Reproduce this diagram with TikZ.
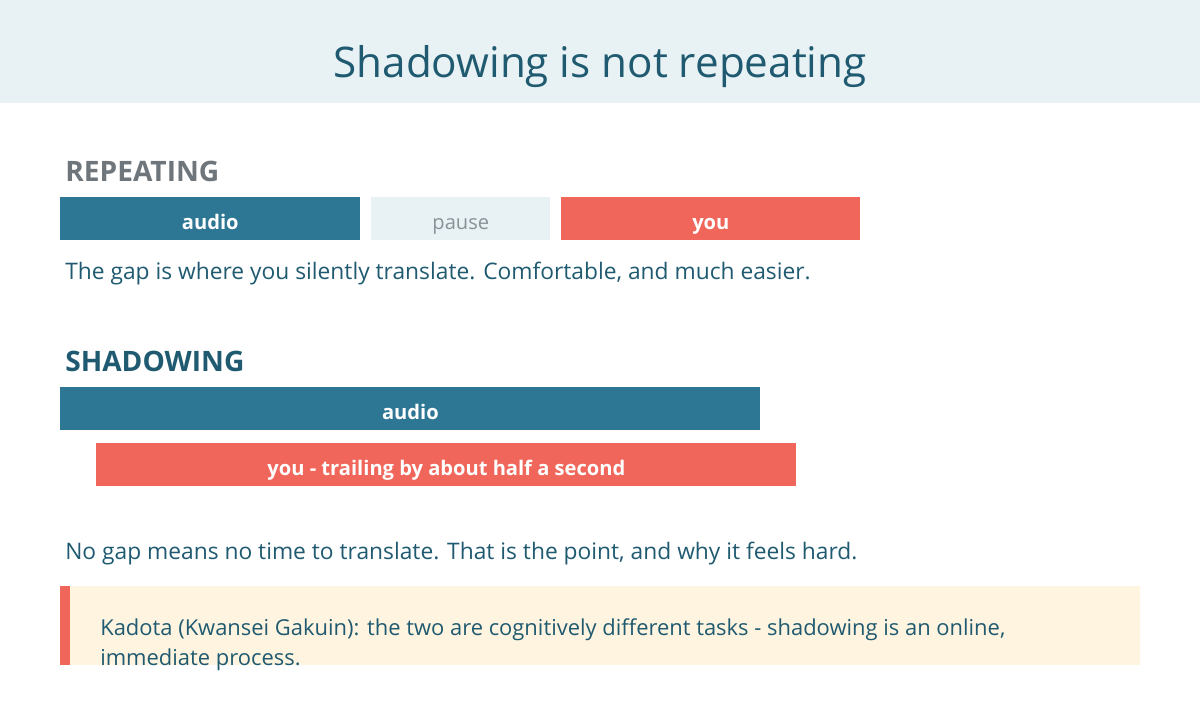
\documentclass[tikz,border=0pt]{standalone}
\usepackage{fontspec}
\setmainfont{Open Sans}
\usetikzlibrary{positioning}

\definecolor{titlebg}{HTML}{E8F2F4}
\definecolor{navy}{HTML}{1F5A70}
\definecolor{audiocol}{HTML}{2E7794}
\definecolor{youcol}{HTML}{F0665A}
\definecolor{headgray}{HTML}{6E767C}
\definecolor{pausegray}{HTML}{8A9299}
\definecolor{notebg}{HTML}{FFF4E0}

\begin{document}
\begin{tikzpicture}[x=0.025cm,y=-0.025cm,
  bar/.style={minimum height=1.075cm,inner sep=0pt,text height=15pt,text depth=0pt,anchor=north west,font=\bfseries\fontsize{14.3}{16}\selectfont,text=white},
  head/.style={anchor=base west,inner sep=0pt,font=\bfseries\fontsize{20}{24}\selectfont},
  body/.style={anchor=base west,inner sep=0pt,text=navy,font=\fontsize{16.2}{19}\selectfont}]

\useasboundingbox (0,0) rectangle (1200,700);
\fill[titlebg] (0,0) rectangle (1200,103);
\node[anchor=base,inner sep=0pt,text=navy,font=\fontsize{30}{34}\selectfont] (title) at (600,77) {Shadowing is not repeating};

% repeating
\node[head,text=headgray] (rephead) at (65,181) {REPEATING};
\node[bar,fill=audiocol,minimum width=7.5cm] (repaudio) at (60,197) {audio};
\node[bar,fill=titlebg,minimum width=4.475cm,text=pausegray,font=\fontsize{14.3}{16}\selectfont] (reppause) at (371,197) {pause};
\node[bar,fill=youcol,minimum width=7.475cm] (repyou) at (561,197) {you};
\node[body] (repnote) at (65,279) {The gap is where you silently translate. Comfortable, and much easier.};

% shadowing
\node[head,text=navy] (shadhead) at (65,371) {SHADOWING};
\node[bar,fill=audiocol,minimum width=17.5cm] (shadaudio) at (60,387) {audio};
\node[bar,fill=youcol,minimum width=17.5cm] (shadyou) at (96,443) {you - trailing by about half a second};
\node[body] (shadnote) at (65,559) {No gap means no time to translate. That is the point, and why it feels hard.};

% note
\fill[notebg] (60,586) rectangle (1140,665);
\fill[youcol] (60,586) rectangle (70,665);
\node[body,align=left,font=\fontsize{15.6}{21.3}\selectfont] (kadota) at (100,665) {Kadota (Kwansei Gakuin): the two are cognitively different tasks - shadowing is an online,\\immediate process.};

\end{tikzpicture}
\end{document}
